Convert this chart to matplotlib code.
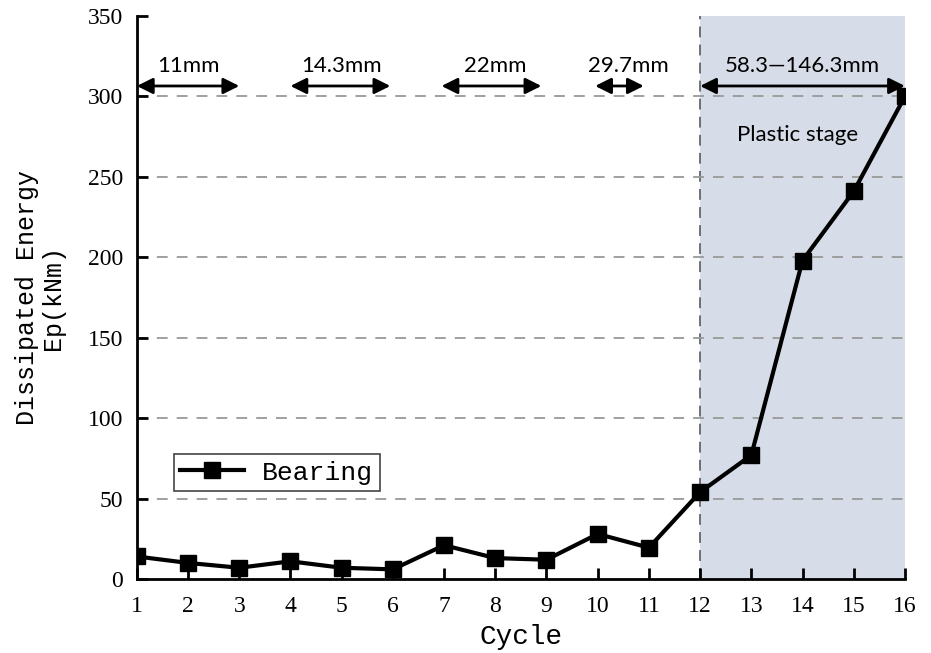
import matplotlib
matplotlib.use("Agg")
import matplotlib.pyplot as plt

# Dissipated energy per loading cycle
cycles = [1, 2, 3, 4, 5, 6, 7, 8, 9, 10, 11, 12, 13, 14, 15, 16]
energy = [14, 10, 7, 11, 7, 6, 21, 13, 12, 28, 19.5, 54, 77, 198, 241, 300]

x_ticks = list(range(1, 17))
y_ticks = [0, 50, 100, 150, 200, 250, 300, 350]
grid_levels = [50, 100, 150, 200, 250, 300]

# Displacement amplitude bands: (start cycle, end cycle, label)
band_starts = [1, 4, 6.95, 9.95, 12]
band_ends = [3, 5.95, 8.9, 10.9, 16]
band_labels = ["11mm", "14.3mm", "22mm", "29.7mm", "58.3\u2014146.3mm"]
band_label_x = [2, 5, 8, 10.6, 14]

plastic_start = 12

serif = "Liberation Serif"
mono = "Liberation Mono"
sans = "Lato"

fig = plt.figure(figsize=(9.31, 6.53), dpi=100)
ax = fig.add_axes([0.147, 0.1133, 0.825, 0.8622])

ax.set_xlim(1, 16)
ax.set_ylim(0, 350)

# Plastic stage shading and its boundary
ax.axvspan(plastic_start, 16, color="#d7dde8", zorder=0, lw=0)
ax.axvline(plastic_start, color="#666666", lw=1.3, ls=(0, (6, 4)), zorder=1)

for g in grid_levels:
    ax.axhline(g, color="#999999", lw=1.3, ls=(0, (6, 5)), zorder=1)

line, = ax.plot(cycles, energy, color="black", lw=3, marker="s", markersize=12,
                markerfacecolor="black", markeredgecolor="black", zorder=3,
                label="Bearing")
line.set_clip_path(ax.patch)

for s, e, lab, lx in zip(band_starts, band_ends, band_labels, band_label_x):
    ax.annotate("", xy=(e, 306.5), xytext=(s, 306.5),
                arrowprops=dict(arrowstyle="<|-|>", color="black", lw=2,
                                mutation_scale=24, shrinkA=0, shrinkB=0),
                zorder=4)
    ax.text(lx, 312.5, lab, ha="center", va="bottom", fontsize=16,
            family=sans, color="black")

ax.text(13.9, 276, "Plastic stage", ha="center", va="center", fontsize=16,
        family=sans, color="black")

ax.set_xticks(x_ticks)
ax.set_yticks(y_ticks)
for lab in ax.get_xticklabels() + ax.get_yticklabels():
    lab.set_family(serif)
    lab.set_fontsize(17)
ax.tick_params(direction="in", length=8, width=2, color="black")
ax.tick_params(axis="x", pad=12)
ax.tick_params(axis="y", pad=10)

for side in ["top", "right"]:
    ax.spines[side].set_visible(False)
for side in ["left", "bottom"]:
    ax.spines[side].set_linewidth(2)

ax.set_xlabel("Cycle", family=mono, fontsize=20, labelpad=5)
ax.set_ylabel("Dissipated Energy\nEp(kNm)", family=mono, fontsize=18,
              labelpad=16, linespacing=1.1)

leg = ax.legend(loc="upper left", bbox_to_anchor=(0.048, 0.222),
                prop={"family": mono, "size": 19}, fancybox=False,
                framealpha=1, edgecolor="#444444", handlelength=2.4,
                borderpad=0.25, handletextpad=0.7, borderaxespad=0)
leg.get_frame().set_linewidth(1.2)

fig.savefig("out.png", dpi=100)
